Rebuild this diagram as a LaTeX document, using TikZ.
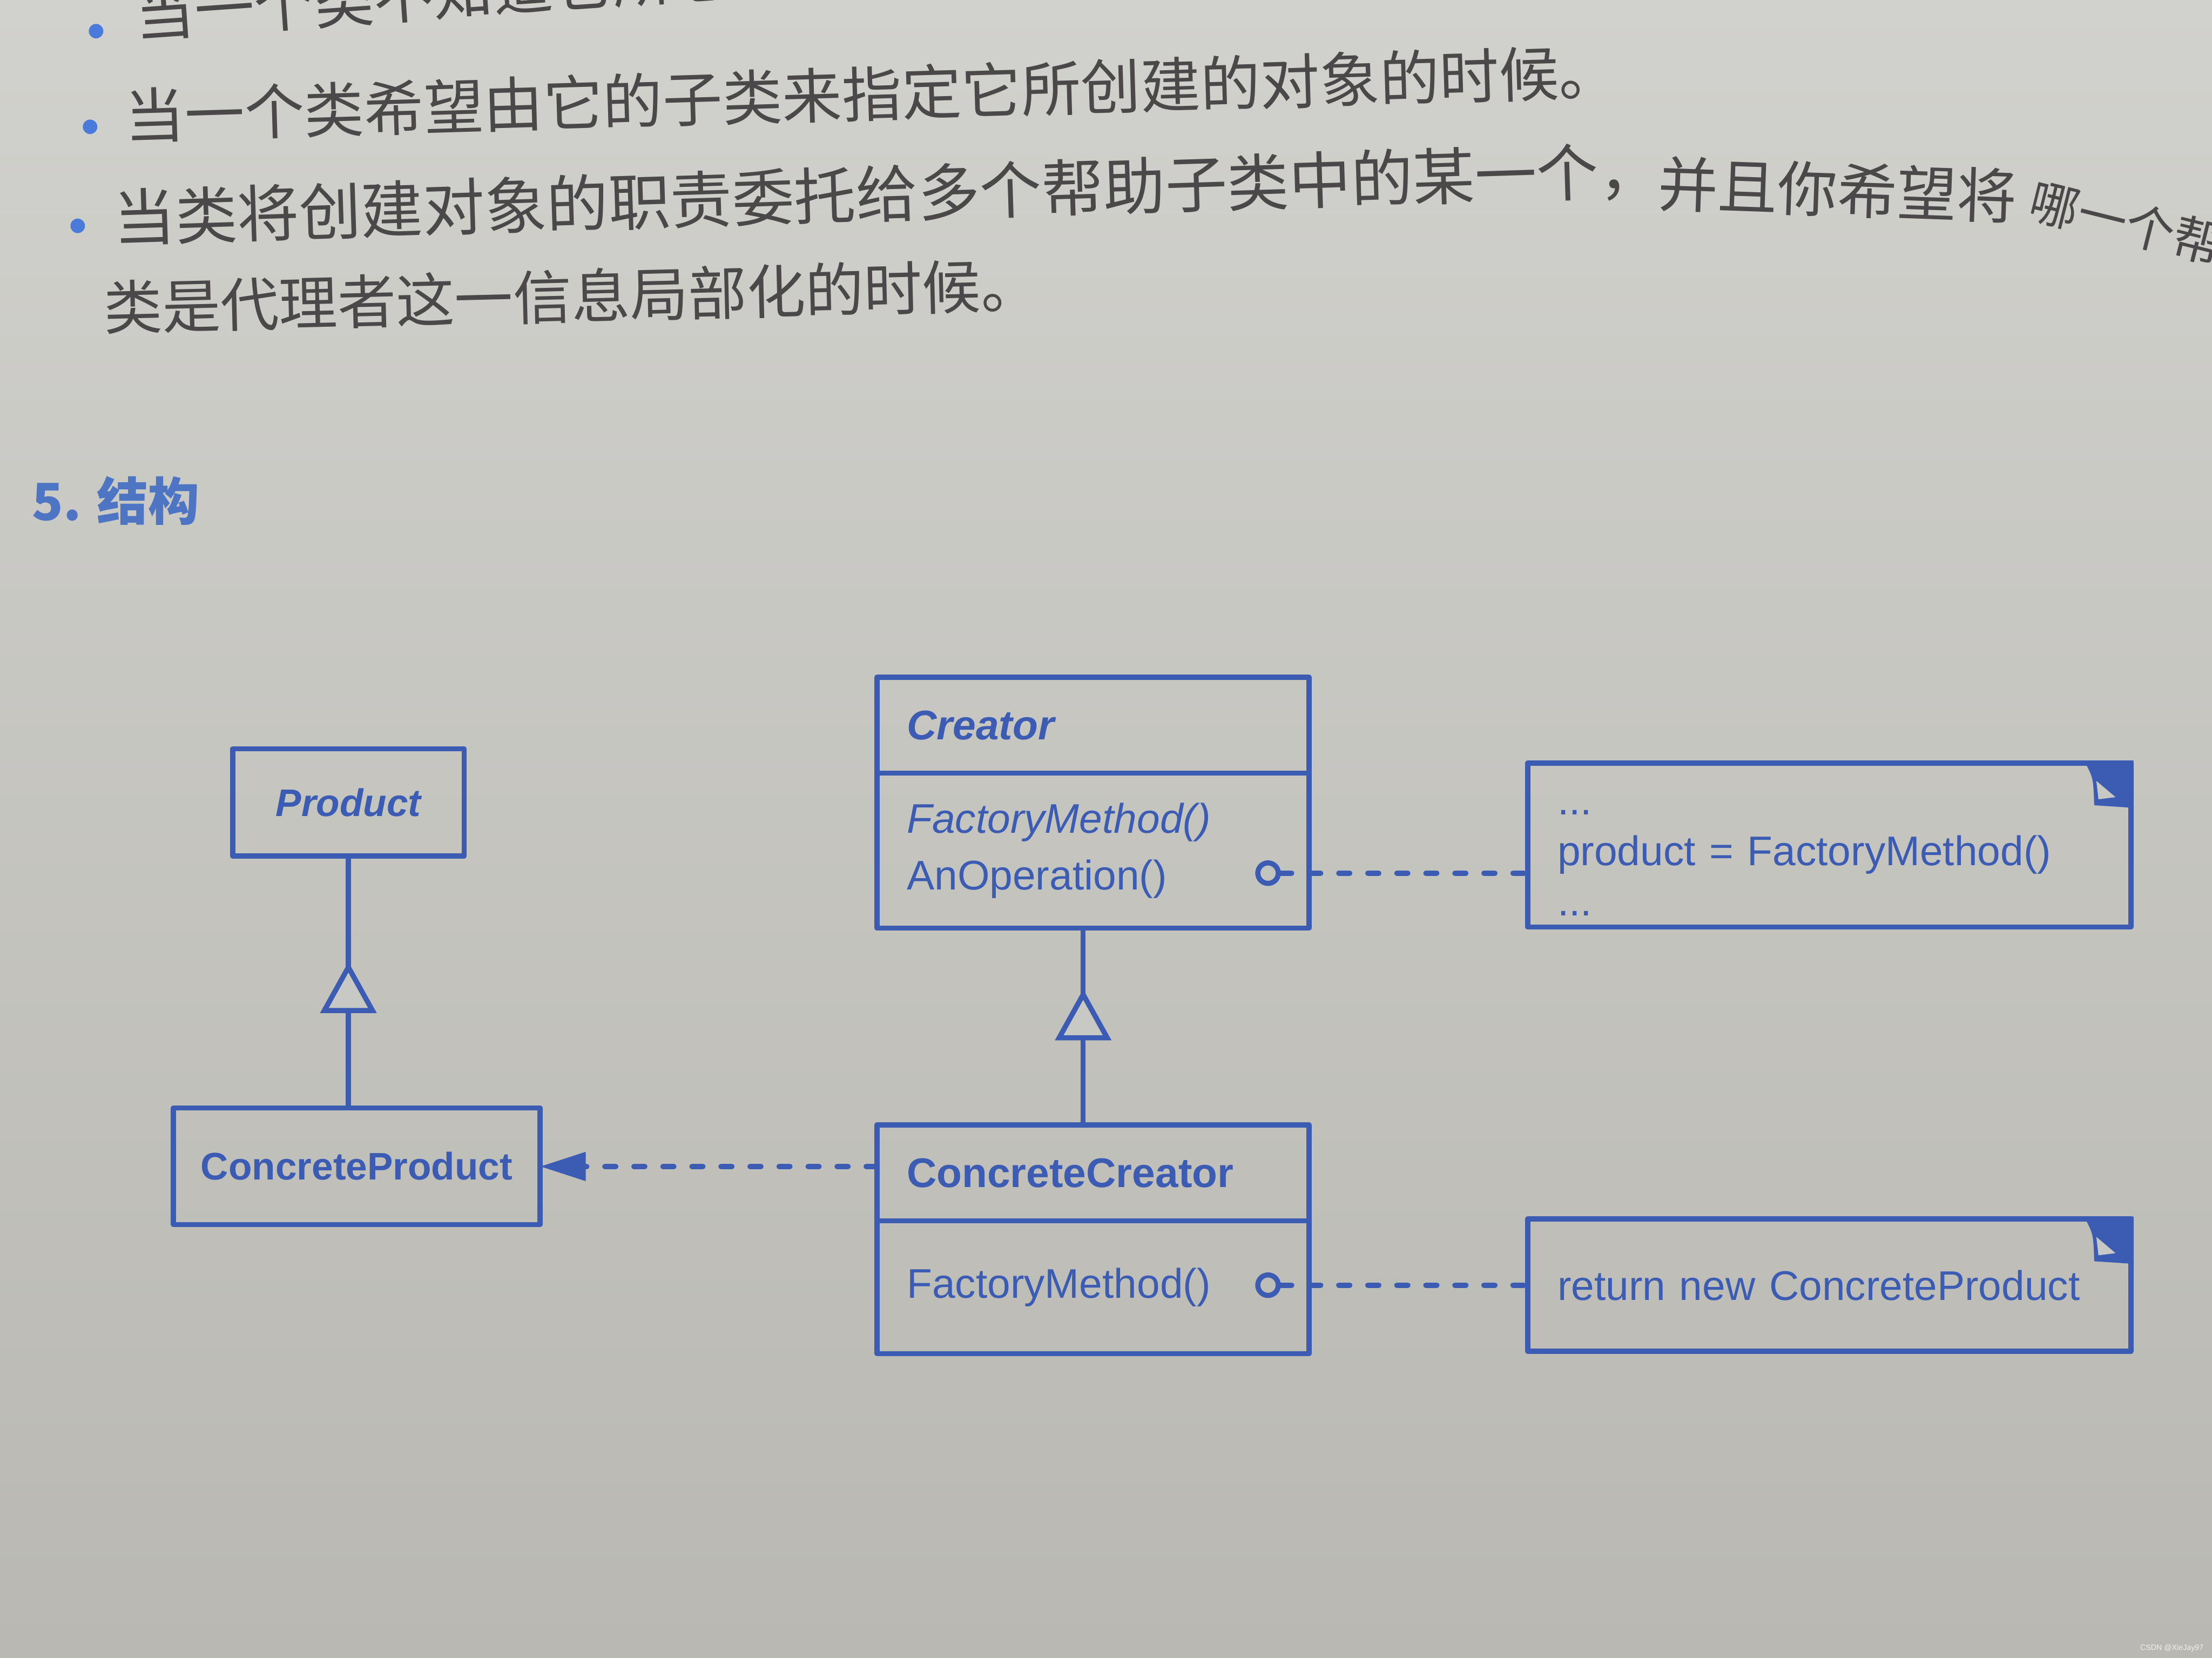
\documentclass[tikz,border=0pt]{standalone}
\usepackage{fontspec}
\setsansfont{Liberation Sans}
\newfontfamily\cjk{Noto Sans CJK SC}
\usepackage{xcolor}
\definecolor{umlblue}{HTML}{3B5CB2}
\definecolor{headblue}{HTML}{4D75C4}
\definecolor{dotblue}{HTML}{4A7BDB}
\definecolor{inkgray}{HTML}{4A4849}
\definecolor{papertop}{HTML}{D1D1CD}
\definecolor{paperbot}{HTML}{B9B8B2}
\definecolor{paper}{HTML}{C8C8C4}
\usepackage{tikz}
\usetikzlibrary{arrows.meta,decorations.markings}
\tikzset{
  >={Triangle[length=10.7pt,width=6.5pt]},
  every picture/.style={line join=round},
  cls/.style={draw=umlblue, line width=1.2pt, text=umlblue, inner xsep=7pt, inner ysep=0pt, outer sep=0pt},
  clshead/.style={cls, text width=87.2pt, minimum height=22.5pt, align=left,
    font=\sffamily\fontsize{9.7}{13.2}\selectfont\bfseries},
  clsbody/.style={cls, text width=87.2pt, align=left, anchor=north,
    font=\sffamily\fontsize{9.7}{13.2}\selectfont},
  prodbox/.style={cls, inner xsep=3pt, align=center,
    font=\sffamily\fontsize{9}{11}\selectfont\bfseries},
  notebox/.style={cls, text width=127.3pt, align=left,
    font=\sffamily\fontsize{9.7}{11.8}\selectfont},
  opdot/.style={circle, draw=umlblue, line width=1.2pt, minimum size=4.8pt, inner sep=0pt},
  dashlink/.style={umlblue, line width=1.3pt, line cap=round, dash pattern=on 2.5pt off 4.3pt},
  inherit/.style={umlblue, line width=1.2pt, postaction={decorate},
    decoration={markings, mark=at position #1 with
      {\arrow{Triangle[length=12pt,width=13pt,fill=paper]}}}},
  bodytxt/.style={text=inkgray, font=\cjk\fontsize{14}{16}\selectfont, inner sep=0pt, anchor=west},
  bulletdot/.style={circle, fill=dotblue, inner sep=0pt, minimum size=3.4pt},
}

\begin{document}
\begin{tikzpicture}[x=10pt, y=10pt]
\clip (0,0) rectangle (51.81,38.83);
\shade[top color=papertop, bottom color=paperbot] (0,0) rectangle (51.81,38.83);

% ------------------------------------------------------------- text above
\node[bulletdot] (b0) at (2.25,38.10) {};
\node[bodytxt, rotate=4] (t0) at (3.14,38.50) {当一个类不知道它所必须创建的对象的类的时候。};
\node[bulletdot] (b1) at (2.11,35.86) {};
\node[bodytxt, rotate=1.7] (t1) at (2.91,36.12) {当一个类希望由它的子类来指定它所创建的对象的时候。};
\node[bulletdot] (b2) at (1.82,33.54) {};
\node[bodytxt, rotate=1.8, font=\cjk\fontsize{14.5}{16}\selectfont] (t2) at (2.64,33.71) {当类将创建对象的职责委托给多个帮助子类中的某一个，};
\node[bodytxt, rotate=-2] (t2b) at (38.82,34.53) {并且你希望将};
\node[bodytxt, rotate=-14, font=\cjk\fontsize{11.5}{13}\selectfont] (t2c) at ([xshift=3pt,yshift=-0.5pt]t2b.east) {哪一个帮};
\node[bodytxt, rotate=1.4, font=\cjk\fontsize{13.7}{15}\selectfont] (t3) at (2.41,31.63) {类是代理者这一信息局部化的时候。};

\node[anchor=west, inner sep=0pt, text=headblue, font=\cjk\bfseries\fontsize{12}{14}\selectfont]
  (sec) at (0.73,27.10) {5. 结构};

% ------------------------------------------------------------- classes
\node[prodbox, minimum width=54.2pt, minimum height=25.1pt] (prod) at (8.16,20.035) {\itshape Product};
\node[prodbox, minimum width=85.9pt, minimum height=27.3pt] (cp) at (8.355,11.515) {ConcreteProduct};

\node[clshead] (crh) at (25.6,21.845) {\itshape Creator};
\node[clsbody, minimum height=36.3pt] (crb) at (crh.south) {{\itshape FactoryMethod()}\\AnOperation()};
\node[clshead] (cch) at (25.6,11.36) {ConcreteCreator};
\node[clsbody, minimum height=31.1pt] (ccb) at (cch.south) {FactoryMethod()};

% ------------------------------------------------------------- notes
\node[notebox, minimum height=38.4pt] (note1) at (42.845,19.04)
  {\rule{0pt}{9.5pt}...\\product = FactoryMethod()\\...};
\node[notebox, minimum height=31pt] (note2) at (42.845,8.73) {return new ConcreteProduct};
\foreach \n in {note1,note2} {
  \fill[umlblue] ([xshift=-11pt,yshift=0.6pt]\n.north east) -- ([xshift=0.6pt,yshift=0.6pt]\n.north east)
    -- ([xshift=0.6pt,yshift=-10.5pt]\n.north east) -- ([xshift=-8.6pt,yshift=-9.9pt]\n.north east)
    .. controls ([xshift=-8.8pt,yshift=-3.5pt]\n.north east) .. ([xshift=-11pt,yshift=0.6pt]\n.north east) -- cycle;
  \fill[paper] ([xshift=-8.1pt,yshift=-4.2pt]\n.north east) -- ([xshift=-7.6pt,yshift=-8.5pt]\n.north east)
    -- ([xshift=-3.6pt,yshift=-8.0pt]\n.north east) -- cycle;
}

% ------------------------------------------------------------- links
\node[opdot] (op1) at (29.70,18.38) {};
\node[opdot] (op2) at (29.70,8.73) {};
\draw[dashlink] (op1.east) -- (op1.east -| note1.west);
\draw[dashlink] (op2.east) -- (op2.east -| note2.west);
\draw[dashlink, ->] ([yshift=1.5pt]cch.west) -- ([yshift=1.5pt]cch.west -| cp.east);
\draw[inherit=0.58] (prod.south |- cp.north) -- (prod.south);
\draw[inherit=0.69] ([xshift=-2.3pt]cch.north) -- ([xshift=-2.3pt]crb.south);

\node[anchor=south east, inner sep=0pt, text=white!88!gray, font=\sffamily\fontsize{1.8}{2}\selectfont]
  (wm) at (51.63,0.12) {CSDN @XieJay97};
\end{tikzpicture}
\end{document}
